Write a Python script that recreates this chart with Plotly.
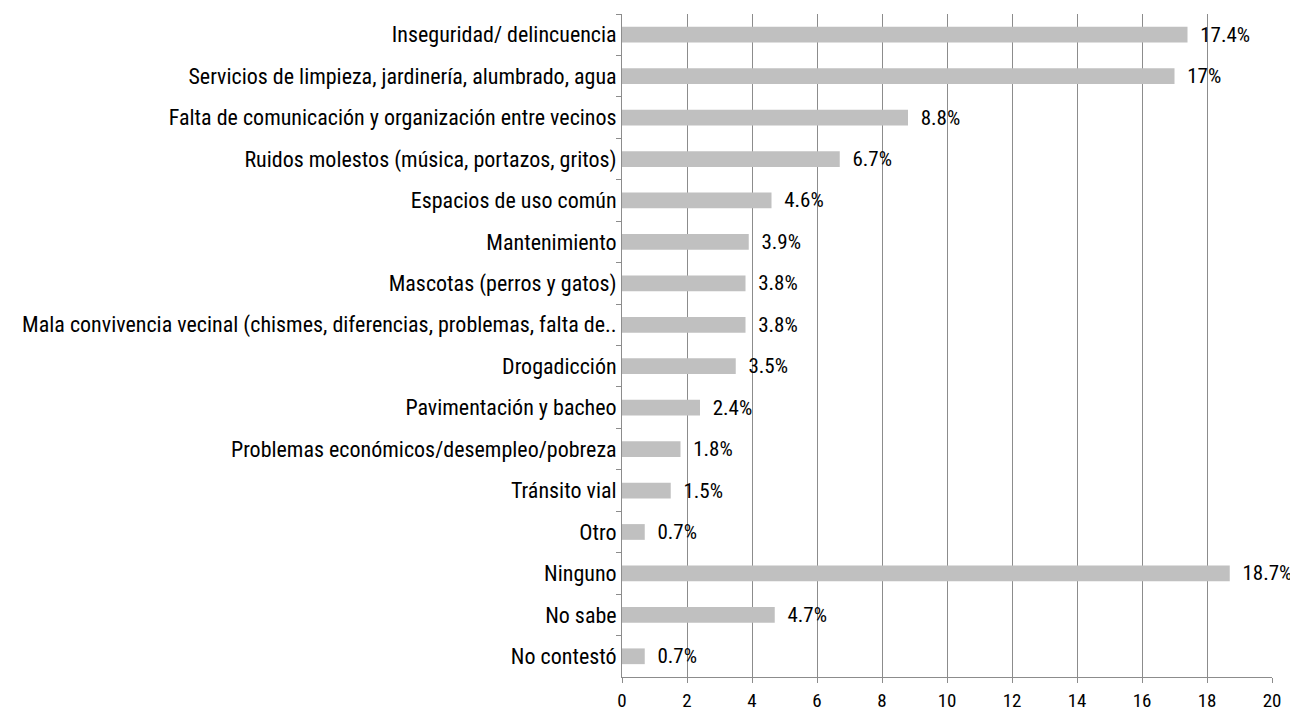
import plotly.graph_objects as go

categorias = [
    "Inseguridad/ delincuencia",
    "Servicios de limpieza, jardinería, alumbrado, agua",
    "Falta de comunicación y organización entre vecinos",
    "Ruidos molestos (música, portazos, gritos)",
    "Espacios de uso común",
    "Mantenimiento",
    "Mascotas (perros y gatos)",
    "Mala convivencia vecinal (chismes, diferencias, problemas, falta de..",
    "Drogadicción",
    "Pavimentación y bacheo",
    "Problemas económicos/desempleo/pobreza",
    "Tránsito vial",
    "Otro",
    "Ninguno",
    "No sabe",
    "No contestó",
]
valores = [17.4, 17, 8.8, 6.7, 4.6, 3.9, 3.8, 3.8, 3.5, 2.4, 1.8, 1.5, 0.7, 18.7, 4.7, 0.7]
etiquetas = ["  " + f"{v:g}%" for v in valores]

font_narrow = "Liberation Sans Narrow, Arial Narrow, Roboto Condensed, Liberation Sans, sans-serif"

fig = go.Figure(go.Bar(
    x=valores,
    y=categorias,
    orientation="h",
    marker=dict(color="#c0c0c0", line=dict(width=0)),
    width=0.38,
    text=etiquetas,
    textposition="outside",
    constraintext="none",
    cliponaxis=False,
    textfont=dict(family=font_narrow, size=21, color="#000000"),
))

fig.update_layout(
    width=1298,
    height=715,
    margin=dict(l=614, r=34, t=6, b=46),
    plot_bgcolor="white",
    paper_bgcolor="white",
    showlegend=False,
    font=dict(family=font_narrow, size=22, color="#000000"),
    xaxis=dict(
        range=[0, 20],
        dtick=2,
        automargin=False,
        showgrid=True,
        gridcolor="#8c8c8c",
        gridwidth=1,
        showline=True,
        linecolor="#8c8c8c",
        ticks="outside",
        ticklen=5,
        tickcolor="#8c8c8c",
        ticklabelstandoff=1,
        zeroline=False,
        tickfont=dict(size=19),
    ),
    yaxis=dict(
        autorange="reversed",
        automargin=False,
        showgrid=False,
        showline=True,
        linecolor="#8c8c8c",
        ticks="outside",
        ticklen=5,
        tickcolor="#8c8c8c",
        tickson="boundaries",
        tickfont=dict(size=22),
    ),
)

fig.write_html("out.html")
